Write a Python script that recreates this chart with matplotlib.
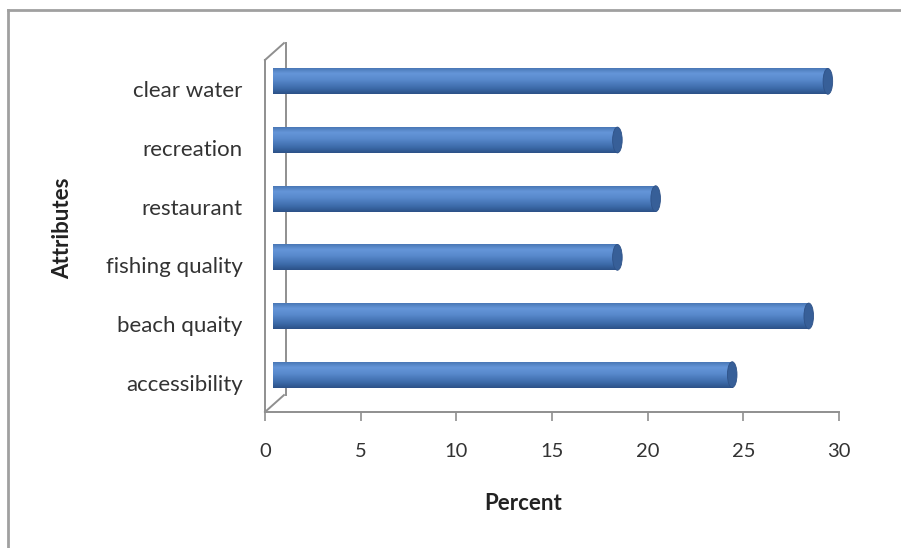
import numpy as np
import matplotlib
matplotlib.use("Agg")
import matplotlib.pyplot as plt
from matplotlib.colors import LinearSegmentedColormap
from matplotlib.patches import Ellipse
from matplotlib.transforms import ScaledTranslation
from matplotlib.lines import Line2D

plt.rcParams['font.family'] = ['Lato', 'DejaVu Sans']

# data (bottom to top as drawn)
attributes = ["accessibility", "beach quaity", "fishing quality",
              "restaurant", "recreation", "clear water"]
percent = [24, 28, 18, 20, 18, 29]
xticks = [0, 5, 10, 15, 20, 25, 30]

fig = plt.figure(figsize=(9.01, 5.48), dpi=100)
ax = fig.add_axes([0.2941, 0.2482, 0.6371, 0.6423])
ax.set_xlim(0, 30)
ax.set_ylim(-0.5, len(attributes) - 0.5)

# 3D-ish shift for the bars (half the wall depth)
shift = ax.transData + ScaledTranslation(0.08, 0.08, fig.dpi_scale_trans)

cyl = LinearSegmentedColormap.from_list(
    "cyl", [(0.0, "#2c5187"), (0.2, "#3b69a7"), (0.55, "#5889cc"),
            (0.8, "#6596d9"), (1.0, "#4a78b6")])
grad = np.linspace(0, 1, 64).reshape(-1, 1)

bar_h = 0.44
bars = ax.barh(range(len(attributes)), percent, height=bar_h,
               color="#4f81bd", linewidth=0, zorder=3)
for i, b in enumerate(bars):
    b.set_transform(shift)
    x0, y0 = b.get_x(), b.get_y()
    w, h = b.get_width(), b.get_height()
    im = ax.imshow(grad, cmap=cyl, aspect="auto", origin="lower",
                   extent=(x0, x0 + w, y0, y0 + h), transform=shift,
                   zorder=4, interpolation="bilinear")
    im.set_clip_path(b)
    # flat end face of the cylinder
    cap = Ellipse((x0 + w, y0 + h / 2), 0.5, h, facecolor="#375f98",
                  edgecolor="#2e5288", linewidth=0.6, transform=shift,
                  zorder=5)
    ax.add_patch(cap)

ax.set_xlim(0, 30)
ax.set_ylim(-0.5, len(attributes) - 0.5)

# walls / floor outline
gray = "#8f8f8f"
for s in ["top", "right"]:
    ax.spines[s].set_visible(False)
ax.spines["left"].set_color(gray)
ax.spines["bottom"].set_color(gray)
ax.spines["left"].set_linewidth(1.4)
ax.spines["bottom"].set_linewidth(1.4)

depth = ScaledTranslation(0.21, 0.17, fig.dpi_scale_trans)
back = ax.transAxes + depth
ax.add_line(Line2D([0, 0], [0, 1], transform=back, color=gray, lw=1.4,
                   zorder=1, clip_on=False))
for yy in [0, 1]:
    ax.add_line(Line2D([0, 0.033], [yy, yy + 0.048], transform=ax.transAxes,
                       color=gray, lw=1.4, zorder=1, clip_on=False))

ax.set_xticks(xticks)
ax.set_yticks(range(len(attributes)))
ax.set_yticklabels(attributes)
ax.tick_params(axis="x", direction="out", length=6.5, width=1.2, color=gray,
               pad=16, labelsize=14.5, labelcolor="#333333")
ax.tick_params(axis="y", length=0, pad=16, labelsize=16,
               labelcolor="#333333")

fig.text(523 / 901, 1 - 503 / 548, "Percent", ha="center", va="center",
         fontsize=16, fontweight="bold", color="#222222")
fig.text(63 / 901, 1 - 228 / 548, "Attributes", ha="center", va="center",
         rotation=90, fontsize=16, fontweight="bold", color="#222222")

# chart frame (only top and left edges visible)
fig.add_artist(Line2D([8 / 901, 8 / 901], [0, 1 - 10 / 548],
                      transform=fig.transFigure, color="#a0a0a0", lw=2))
fig.add_artist(Line2D([8 / 901, 1], [1 - 10 / 548, 1 - 10 / 548],
                      transform=fig.transFigure, color="#a0a0a0", lw=2))

fig.savefig("out.png", dpi=100)
